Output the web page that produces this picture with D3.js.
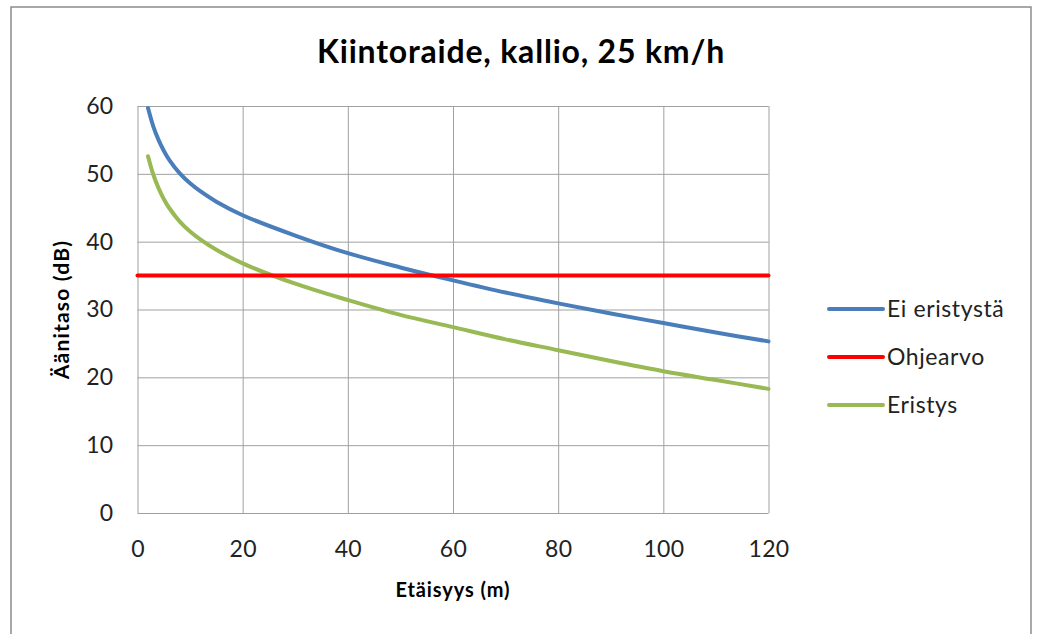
<!DOCTYPE html>
<html>
<head>
<meta charset="utf-8">
<script src="https://cdn.jsdelivr.net/npm/d3@7"></script>
<style>
  body { margin: 0; background: #fff; }
  svg text { font-family: Lato, "Open Sans", sans-serif; fill: #000; }
  .grid line { stroke: #a0a0a0; stroke-width: 1; }
  .grid path { display: none; }
  .axis path, .axis line { display: none; }
  .axis text { font-size: 23px; fill: #222; letter-spacing: 0.3px; }
</style>
</head>
<body>
<div id="chart"></div>
<script>
// distance (m)
const distances = [2, 3, 4, 5, 6, 8, 10, 12, 15, 20, 30, 40, 50, 60, 70, 80, 90, 100, 110, 120];
// sound level without insulation (dB)
const eiEristysta = [59.7, 57.0, 55.0, 53.4, 52.1, 50.1, 48.6, 47.4, 45.9, 43.9, 40.9, 38.3, 36.2, 34.3, 32.5, 30.9, 29.4, 28.0, 26.6, 25.3];
// sound level with insulation (dB)
const eristys = [52.6, 49.9, 47.9, 46.3, 45.0, 43.0, 41.5, 40.3, 38.8, 36.8, 33.8, 31.4, 29.2, 27.4, 25.6, 24.0, 22.4, 20.9, 19.6, 18.3];
// guideline value
const ohjeX = [0, 120];
const ohjeY = [35, 35];

const xTicks = [0, 20, 40, 60, 80, 100, 120];
const yTicks = [0, 10, 20, 30, 40, 50, 60];

const seriesNames = ["Ei eristystä", "Ohjearvo", "Eristys"];
const seriesColors = ["#4a7ebb", "#ff0000", "#98b954"];

const width = 1038;
const height = 634;
const margin = { top: 106, left: 137.5, right: 269.5, bottom: 121 };

const svg = d3.select("#chart")
    .append("svg")
    .attr("width", width)
    .attr("height", height);

// outer chart frame
svg.append("rect")
    .attr("x", 11)
    .attr("y", 7)
    .attr("width", 1020)
    .attr("height", 660)
    .attr("fill", "none")
    .attr("stroke", "#8c8c8c")
    .attr("stroke-width", 1.5);

const xScale = d3.scaleLinear()
    .domain([0, 120])
    .range([margin.left, width - margin.right]);

const yScale = d3.scaleLinear()
    .domain([0, 60])
    .range([height - margin.bottom, margin.top]);

// GRID
svg.append("g")
    .attr("class", "grid")
    .attr("transform", `translate(0,${height - margin.bottom})`)
    .call(d3.axisBottom(xScale).tickValues(xTicks).tickSize(-(yScale(0) - yScale(60))).tickFormat(""));

svg.append("g")
    .attr("class", "grid")
    .attr("transform", `translate(${margin.left},0)`)
    .call(d3.axisLeft(yScale).tickValues(yTicks).tickSize(-(xScale(120) - xScale(0))).tickFormat(""));

// AXES (labels only)
svg.append("g")
    .attr("class", "axis")
    .attr("transform", `translate(0,${height - margin.bottom})`)
    .call(d3.axisBottom(xScale).tickValues(xTicks).tickSize(0).tickPadding(28));

svg.append("g")
    .attr("class", "axis")
    .attr("transform", `translate(${margin.left},0)`)
    .call(d3.axisLeft(yScale).tickValues(yTicks).tickSize(0).tickPadding(24));

// LINES
const line = d3.line()
    .x(d => xScale(d[0]))
    .y(d => yScale(d[1]))
    .curve(d3.curveCatmullRom.alpha(0.5));

const series = [
    d3.zip(distances, eiEristysta),
    d3.zip(ohjeX, ohjeY),
    d3.zip(distances, eristys)
];

// red guideline drawn last, on top
[0, 2, 1].forEach(function (i) {
    svg.append("path")
        .datum(series[i])
        .attr("d", line)
        .attr("fill", "none")
        .attr("stroke", seriesColors[i])
        .attr("stroke-width", 4)
        .attr("stroke-linecap", "round");
});

// TITLE
svg.append("text")
    .attr("x", 521)
    .attr("y", 63)
    .attr("text-anchor", "middle")
    .style("font-size", "32px")
    .style("font-weight", "bold")
    .style("letter-spacing", "0.8px")
    .text("Kiintoraide, kallio, 25 km/h");

// AXIS LABELS
svg.append("text")
    .attr("x", (xScale(0) + xScale(120)) / 2)
    .attr("y", 597)
    .attr("text-anchor", "middle")
    .style("font-size", "20px")
    .style("font-weight", "bold")
    .style("letter-spacing", "0.9px")
    .text("Etäisyys (m)");

svg.append("text")
    .attr("transform", `translate(69,${(yScale(0) + yScale(60)) / 2}) rotate(-90)`)
    .attr("text-anchor", "middle")
    .style("font-size", "21px")
    .style("font-weight", "bold")
    .style("letter-spacing", "1.2px")
    .text("Äänitaso (dB)");

// LEGEND
const legend = svg.append("g")
    .attr("transform", "translate(829,309)");

seriesNames.forEach(function (name, i) {
    const row = legend.append("g").attr("transform", `translate(0,${i * 48})`);
    row.append("line")
        .attr("x1", 0).attr("x2", 54)
        .attr("y1", 0).attr("y2", 0)
        .attr("stroke", seriesColors[i])
        .attr("stroke-width", 4)
        .attr("stroke-linecap", "round");
    row.append("text")
        .attr("x", 58)
        .attr("y", 8)
        .style("font-size", "23px")
        .style("letter-spacing", "0.6px")
        .style("fill", "#222")
        .text(name);
});
</script>
</body>
</html>
